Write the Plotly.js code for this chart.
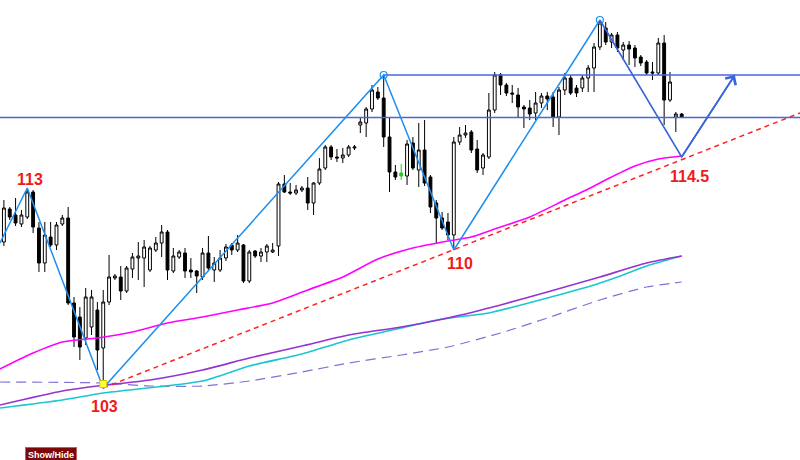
<!DOCTYPE html>
<html><head><meta charset="utf-8">
<script src="https://cdn.plot.ly/plotly-3.0.1.min.js"></script>
<style>html,body{margin:0;padding:0;background:#fff;overflow:hidden}#chart{width:800px;height:460px}</style>
</head><body><div id="chart"></div>
<script>
// ---- candle data (price) ----
const opens = [110.3,111.95,111.65,111.2,111.55,112.8,111.0,109.25,110.55,110.15,
111.2,111.5,107.25,106.55,105.5,106.05,106.9,105.0,107.3,108.5,
108.55,107.85,108.95,109.5,109.5,108.9,109.9,110.25,110.8,108.85,
109.55,109.75,108.9,108.85,108.55,109.75,108.9,108.9,109.5,110.15,
109.9,110.15,108.35,109.85,109.6,109.8,109.8,110.1,113.2,112.8,
112.75,112.9,113.0,112.25,113.25,114.0,115.05,114.55,114.5,114.65,
115.0,116.15,116.25,116.95,117.8,117.5,115.55,113.8,113.6,113.6,
115.25,113.9,114.9,113.55,112.25,111.5,111.3,110.65,115.3,115.65,
115.8,114.95,114.0,114.55,116.9,118.65,118.15,117.75,117.65,117.05,
117.0,116.75,117.25,117.6,117.55,116.55,117.9,118.5,118.0,118.0,
118.5,119.0,120.05,121.0,120.3,120.65,119.9,120.15,120.0,119.55,
119.3,118.8,118.75,120.25,117.4,116.55,116.7];
const highs = [112.4,112.05,112.5,111.9,113.0,112.9,111.3,111.3,111.3,111.3,
111.65,112.05,107.55,107.05,108.0,107.9,107.3,107.9,109.65,108.7,
109.1,109.1,109.75,110.3,110.4,110.1,110.55,111.15,110.9,110.0,
109.9,110.0,109.5,108.9,110.0,110.6,109.55,109.9,110.2,110.25,
110.65,110.2,109.9,109.9,110.0,110.2,110.25,113.3,113.65,113.25,
113.15,113.1,113.55,113.3,114.5,115.15,115.15,114.95,115.0,115.15,
115.15,116.5,117.05,118.15,118.05,118.6,116.55,114.15,114.2,115.4,
115.55,116.25,116.4,113.65,112.4,111.8,111.75,115.55,116.05,116.15,
115.9,115.4,114.75,117.75,118.8,118.75,118.25,118.15,118.0,117.15,
117.4,117.8,117.75,117.8,117.8,118.05,118.75,118.65,118.15,118.65,
119.15,120.25,121.4,121.3,120.75,120.8,120.3,120.35,120.15,119.65,
119.4,119.3,120.5,120.65,118.8,116.8,116.75];
const lows = [110.1,111.4,111.1,111.05,111.45,110.75,108.8,108.8,110.05,109.9,
111.1,107.15,105.05,104.4,105.15,105.65,103.9,103.0,107.15,108.4,
107.4,107.75,108.5,108.4,108.05,108.8,109.8,109.55,108.4,108.75,
109.45,108.5,108.5,107.75,108.4,108.9,108.3,108.8,109.35,109.65,
109.8,108.25,108.25,109.5,109.3,109.3,109.75,109.6,112.75,112.65,
112.65,112.8,111.9,111.65,113.15,113.9,114.4,114.3,114.25,114.55,
114.9,115.75,115.55,116.8,117.4,115.05,112.8,113.4,113.4,113.15,
113.9,113.05,113.1,111.75,110.25,110.9,110.4,110.0,115.15,115.5,
114.75,113.75,113.65,114.45,116.75,117.65,117.6,117.25,116.55,116.0,
116.4,116.4,117.0,116.9,116.05,115.65,117.65,117.65,117.55,117.8,
117.8,117.8,119.9,120.15,120.0,119.8,119.4,119.15,119.05,119.1,
118.65,118.4,118.65,116.15,117.3,115.8,116.5];
const closes = [112.0,111.55,111.25,111.65,112.8,111.05,109.25,110.65,110.15,111.15,
111.5,107.25,105.55,105.05,107.55,107.55,104.9,107.3,108.55,108.6,
107.85,109.0,109.55,109.6,110.05,110.0,110.25,110.8,108.9,109.6,
109.8,108.85,108.8,108.6,109.75,109.0,109.25,109.5,110.05,109.9,
110.25,108.35,109.8,109.6,109.8,110.1,109.9,113.2,112.8,112.75,
112.9,113.0,112.25,113.25,113.95,115.05,114.55,114.5,114.65,115.05,
115.05,116.3,116.95,117.9,117.5,115.55,113.8,113.55,113.75,115.2,
114.0,114.9,113.25,112.05,111.5,111.0,110.65,115.3,115.65,115.75,
114.9,113.9,114.65,116.9,118.65,118.15,117.75,117.7,117.05,116.95,
116.7,117.25,117.6,117.45,116.55,117.9,118.5,117.75,117.75,118.5,
119.0,120.05,121.25,120.3,120.65,120.0,120.15,119.95,119.5,119.25,
118.75,118.75,120.25,117.4,118.3,116.7,116.55];
const greenIdx = 68;

// ---- moving averages (bar index, price) ----
const magentaX = [-0.67,0,5,10,16,22,28,34,40,46,52,58,64,70,76,80,84,90,96,100,104,108,112,116];
const magentaY = [103.95,104.05,104.75,105.3,105.5,105.8,106.25,106.55,106.9,107.25,107.9,108.55,109.45,110.0,110.35,110.55,110.95,111.55,112.4,112.95,113.55,114.1,114.45,114.6];
const purpleX = [-0.67,10,16,25,34,42,51,59,68,76,85,93,102,110,116];
const purpleY = [102.15,102.85,103.1,103.4,103.9,104.5,105.1,105.65,106.05,106.5,107.15,107.8,108.55,109.25,109.6];
const cyanX = [-0.67,10,17,34,42,51,59,68,75,83,93,101,105,110,116];
const cyanY = [102.0,102.4,102.75,103.35,104.1,104.7,105.4,106.0,106.45,106.75,107.5,108.15,108.55,109.1,109.6];
const dashX = [-0.67,17,25,34,42,51,59,68,76,85,93,102,110,116];
const dashY = [103.3,103.25,103.1,103.1,103.35,103.8,104.25,104.65,105.05,105.75,106.5,107.4,108.05,108.3];

// ---- zigzag / levels ----
const zigX = [-0.67,4,17,65,77,102];
const zigY = [110.25,113.0,103.0,118.65,109.9,121.4];
const projX = [102,116,125.1];
const projY = [121.4,114.55,118.65];
const resistance = 118.65;
const support = 116.53;
const trendX = [17,136.25];
const trendY = [103.0,116.75];
const labelTexts = ['113','103','110','114.5'];
const labelX = [4.47,17.3,78.06,117.4];
const labelY = [113.45,102.1,109.25,113.6];

const XMIN = -0.667, XMAX = 136.25, YMIN = 99.4, YMAX = 122.4;

const idx = opens.map((_, i) => i);
const main = idx.filter(i => i !== greenIdx);
const pick = (arr, list) => list.map(i => arr[i]);

const traces = [
  {type:'candlestick', x: pick(idx, main), open: pick(opens, main), high: pick(highs, main),
   low: pick(lows, main), close: pick(closes, main),
   increasing:{line:{color:'#000', width:1}, fillcolor:'#fff'},
   decreasing:{line:{color:'#000', width:1}, fillcolor:'#000'}, hoverinfo:'skip'},
  {type:'candlestick', x:[greenIdx], open:[opens[greenIdx]], high:[highs[greenIdx]],
   low:[lows[greenIdx]], close:[closes[greenIdx]],
   increasing:{line:{color:'#22cc22', width:1}, fillcolor:'#22cc22'},
   decreasing:{line:{color:'#22cc22', width:1}, fillcolor:'#22cc22'}, hoverinfo:'skip'},
  {type:'scatter', mode:'lines', x:dashX, y:dashY, line:{color:'#7f72d6', width:1.2, dash:'10px,6px', shape:'spline', smoothing:0.6}},
  {type:'scatter', mode:'lines', x:cyanX, y:cyanY, line:{color:'#1cc6d0', width:1.6, shape:'spline', smoothing:0.6}},
  {type:'scatter', mode:'lines', x:purpleX, y:purpleY, line:{color:'#9632d2', width:1.6, shape:'spline', smoothing:0.6}},
  {type:'scatter', mode:'lines', x:magentaX, y:magentaY, line:{color:'#ff00ff', width:1.6, shape:'spline', smoothing:0.6}},
  {type:'scatter', mode:'lines', x:trendX, y:trendY, line:{color:'#ff2222', width:1.5, dash:'5px,4px'}},
  {type:'scatter', mode:'lines', x:[XMIN, XMAX], y:[support, support], line:{color:'#4a66dc', width:1.5}},
  {type:'scatter', mode:'lines', x:[zigX[3], XMAX], y:[resistance, resistance], line:{color:'#4a66dc', width:1.5}},
  {type:'scatter', mode:'lines', x:zigX, y:zigY, line:{color:'#1e8ff0', width:1.5}},
  {type:'scatter', mode:'markers', x:[zigX[3], zigX[5]], y:[zigY[3], zigY[5]],
   marker:{symbol:'circle-open', size:7, color:'#1e8ff0', line:{width:1.2}}},
  {type:'scatter', mode:'lines', x:projX, y:projY, line:{color:'#3a64d8', width:1.6}},
  {type:'scatter', mode:'markers', x:[zigX[2]], y:[zigY[2] + 0.2],
   marker:{symbol:'square', size:7, color:'#ffff3c', line:{color:'#d0c800', width:1}}}
];

const annotations = labelTexts.map((t, i) => ({
  x: labelX[i], y: labelY[i], xref:'x', yref:'y', text:'<b>' + t + '</b>', showarrow:false,
  xanchor:'center', yanchor:'middle',
  font:{family:'Liberation Sans, Arial, sans-serif', size:16, color:'#f01a1a'}
}));
annotations.push({
  x: projX[2], y: projY[2], ax: projX[1], ay: projY[1], xref:'x', yref:'y', axref:'x', ayref:'y',
  text:'', showarrow:true, arrowhead:4, arrowsize:1.5, arrowwidth:1.6, arrowcolor:'#3a64d8'
});
annotations.push({
  xref:'paper', yref:'paper', x: 50.5/800, y: 1 - 447/460, xanchor:'center', yanchor:'top',
  text:'<b>Show/Hide</b>', showarrow:false, bgcolor:'#7a0808', bordercolor:'#c06060', borderwidth:1,
  borderpad:2, font:{family:'Liberation Sans Narrow, Liberation Sans, Arial', size:9, color:'#ffffff'}
});

const layout = {
  width:800, height:460, margin:{l:0, r:0, t:0, b:0},
  paper_bgcolor:'#ffffff', plot_bgcolor:'#ffffff', showlegend:false, hovermode:false,
  xaxis:{range:[XMIN, XMAX], visible:false, showgrid:false, zeroline:false, rangeslider:{visible:false}, fixedrange:true},
  yaxis:{range:[YMIN, YMAX], visible:false, showgrid:false, zeroline:false, fixedrange:true},
  annotations: annotations
};

Plotly.newPlot('chart', traces, layout, {displayModeBar:false, staticPlot:true});
</script>
</body></html>
